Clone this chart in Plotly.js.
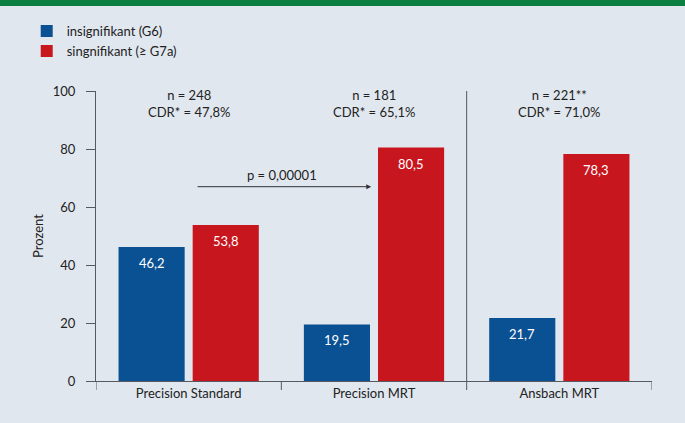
<!DOCTYPE html>
<html><head><meta charset="utf-8">
<script src="https://cdn.plot.ly/plotly-3.0.1.min.js"></script>
<style>html,body{margin:0;padding:0;background:#e1e7ee;}</style>
</head><body><div id="chart" style="width:685px;height:423px;"></div>
<script>
const categories = ["Precision Standard", "Precision MRT", "Ansbach MRT"];
const insignifikant = [46.2, 19.5, 21.7];
const signifikant = [53.8, 80.5, 78.3];
const groupN = ["n = 248", "n = 181", "n = 221**"];
const groupCDR = ["CDR* = 47,8%", "CDR* = 65,1%", "CDR* = 71,0%"];
const seriesNames = ["insignifikant (G6)", "singnifikant (≥ G7a)"];
const pValueText = "p = 0,00001";
const yTitle = "Prozent";
const yTicks = [0, 20, 40, 60, 80, 100];

const FONT = "Lato, 'Open Sans', sans-serif";
const TXT = "#222222";
const BLUE = "#0a5193", RED = "#c8161e", BG = "#e1e7ee", AX = "#555a60";

const fmt = v => v.toFixed(1).replace(".", ",");
const xIdx = categories.map((c, i) => i);

const traces = [
  {type: "bar", name: seriesNames[0], x: xIdx, y: insignifikant, marker: {color: BLUE}, hoverinfo: "none"},
  {type: "bar", name: seriesNames[1], x: xIdx, y: signifikant, marker: {color: RED}, hoverinfo: "none"}
];

const annotations = [];
const off = 0.2;
[insignifikant, signifikant].forEach((arr, s) => {
  arr.forEach((v, i) => {
    annotations.push({x: i + (s === 0 ? -off : off), y: v, xref: "x", yref: "y", text: fmt(v),
      showarrow: false, yanchor: "top", yshift: -6, font: {family: FONT, size: 13, color: "#ffffff"}});
  });
});
categories.forEach((c, i) => {
  annotations.push({x: i, y: 100, xref: "x", yref: "y", text: groupN[i] + "<br>" + groupCDR[i],
    showarrow: false, yanchor: "top", yshift: 6, font: {family: FONT, size: 13, color: TXT}});
});
annotations.push({x: 0.985, y: 67, ax: 0.04, ay: 67, xref: "x", yref: "y", axref: "x", ayref: "y",
  text: "", showarrow: true, arrowhead: 2, arrowsize: 1, arrowwidth: 1, arrowcolor: "#333"});
annotations.push({x: 0.505, y: 67, xref: "x", yref: "y", text: pValueText, showarrow: false,
  yanchor: "bottom", yshift: 2, font: {family: FONT, size: 13, color: TXT}});
annotations.push({x: -0.1043, y: 0.5, xref: "paper", yref: "paper", text: yTitle, textangle: -90,
  showarrow: false, xanchor: "center", yanchor: "middle", font: {family: FONT, size: 13, color: TXT}});

const layout = {
  width: 685, height: 423,
  margin: {l: 96, r: 33, t: 91, b: 42, autoexpand: false},
  paper_bgcolor: BG, plot_bgcolor: BG,
  font: {family: FONT, size: 13, color: TXT},
  barmode: "group", bargap: 0.2, bargroupgap: 0.108,
  showlegend: true,
  legend: {xref: "container", yref: "container", x: 0.039, y: 0.962, xanchor: "left", yanchor: "top",
    bgcolor: "rgba(0,0,0,0)", font: {family: FONT, size: 13, color: TXT}, tracegroupgap: 0},
  xaxis: {type: "linear", range: [-0.5, 2.5], tickmode: "array", tickvals: xIdx, ticktext: categories,
    showline: true, linecolor: AX, linewidth: 1, showgrid: false, zeroline: false, automargin: false,
    ticks: "", tickfont: {family: FONT, size: 13, color: TXT}},
  yaxis: {range: [0, 100], tickvals: yTicks, showline: true, linecolor: AX, linewidth: 1, automargin: false,
    ticks: "outside", ticklen: 9, tickcolor: AX, tickwidth: 1, showgrid: false, zeroline: false,
    ticklabelstandoff: 8, tickfont: {family: FONT, size: 13, color: TXT}},
  annotations: annotations,
  shapes: [
    {type: "rect", xref: "paper", yref: "paper", x0: -0.2, x1: 1.1, y0: 1.2931, y1: 1.4, fillcolor: "#0a7f3f", line: {width: 0}},
    {type: "line", xref: "x", yref: "paper", x0: 1.5, x1: 1.5, y0: -0.031, y1: 1, line: {color: AX, width: 1}},
    {type: "line", xref: "x", yref: "paper", x0: -0.5, x1: -0.5, y0: -0.031, y1: 0, line: {color: AX, width: 1}},
    {type: "line", xref: "x", yref: "paper", x0: 0.5, x1: 0.5, y0: -0.031, y1: 0, line: {color: AX, width: 1}},
    {type: "line", xref: "x", yref: "paper", x0: 2.5, x1: 2.5, y0: -0.031, y1: 0, line: {color: AX, width: 1}}
  ]
};

Plotly.newPlot("chart", traces, layout, {displayModeBar: false, staticPlot: true});
</script></body></html>
